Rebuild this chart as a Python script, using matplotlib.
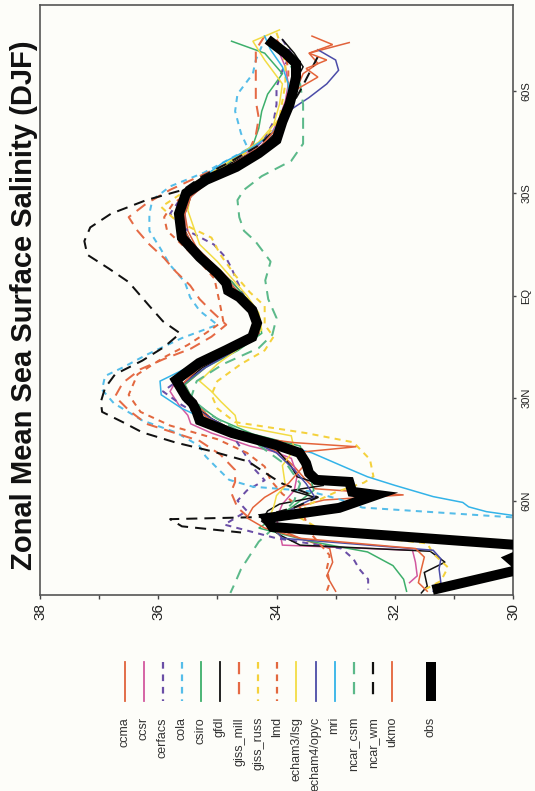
import numpy as np
import matplotlib
matplotlib.use("Agg")
import matplotlib.pyplot as plt
from matplotlib.lines import Line2D

plt.rcParams['font.family'] = ['Liberation Sans', 'DejaVu Sans']

# ---------------- zonal mean SSS (psu) by latitude (deg, S negative) ----------------
ccma_lat = [-74.1, -71, -68, -65, -61, -57, -53, -49, -44, -39, -34, -29, -24, -19, -14, -9, -4, 1, 6, 11, 16, 21, 26, 31, 36, 41, 46, 50, 54, 56.5, 58.3, 59.8, 62, 65, 68, 71, 74, 78, 82, 86.5]
ccma_sss = [32.77, 33.45, 33.3, 33.55, 33.65, 33.75, 33.85, 33.95, 34.2, 34.65, 35.1, 35.45, 35.55, 35.5, 35.35, 35.05, 34.75, 34.5, 34.3, 34.3, 34.75, 35.2, 35.55, 35.4, 35.1, 34.55, 33.95, 33.7, 33.5, 33.35, 31.85, 33.2, 33.7, 34.1, 34.0, 33.6, 33.1, 33.05, 33.15, 33.0]

ccsr_lat = [-75, -71, -67, -62, -57, -52, -47, -43, -39, -34, -29, -24, -19, -14, -9, -4, 1, 6, 11, 16, 21, 25, 28, 32, 35, 37.5, 40.2, 44, 45.6, 47.6, 52.6, 57, 61, 65, 69, 73, 74.5, 78, 82, 84]
ccsr_sss = [34.1, 33.95, 33.85, 33.8, 33.85, 33.95, 34.1, 34.4, 34.8, 35.2, 35.5, 35.6, 35.6, 35.45, 35.15, 34.85, 34.6, 34.4, 34.35, 34.8, 35.35, 35.7, 35.8, 35.65, 35.5, 35.45, 35.1, 34.45, 34.05, 33.75, 33.65, 33.7, 33.9, 34.0, 33.95, 33.9, 31.7, 31.65, 31.62, 31.75]

cerfacs_lat = [-75, -71, -66, -61, -56, -51, -46, -41, -37, -33, -29, -24, -19, -15, -11, -8, -4, 0, 4, 8, 12, 16, 20, 24, 28, 32, 35, 38, 42, 46, 51, 54, 57, 60, 63, 67, 71, 74, 77, 80, 83, 86]
cerfacs_sss = [33.9, 33.75, 33.9, 34.0, 34.0, 34.05, 34.2, 34.5, 34.85, 35.3, 35.6, 35.8, 35.5, 35.06, 34.85, 34.76, 34.66, 34.55, 34.4, 34.3, 34.35, 34.7, 35.2, 35.6, 35.92, 35.6, 35.3, 34.94, 34.7, 34.55, 34.36, 34.2, 34.5, 34.66, 34.5, 34.88, 34.0, 32.9, 32.7, 32.6, 32.45, 32.45]

cola_lat = [-73, -69, -65, -59, -54, -47.5, -43, -39, -36, -32, -28, -24, -19, -14, -9, -4, 0.5, 4.4, 8.5, 12.4, 17.3, 21, 23.5, 27.5, 31.5, 36.5, 40, 44, 47, 50.5, 53.9, 55.9, 57.2, 59.5, 62, 65.1]
cola_sss = [34.25, 34.35, 34.4, 34.66, 34.7, 34.6, 34.48, 34.9, 35.23, 35.8, 36.1, 36.15, 36.15, 35.97, 35.8, 35.55, 35.46, 35.3, 35.0, 35.6, 36.2, 36.6, 36.9, 36.95, 36.75, 36.27, 35.7, 35.3, 35.2, 35.0, 34.8, 34.4, 33.45, 32.95, 32.55, 29.8]

csiro_lat = [-74.5, -71, -65, -59, -54, -49, -44, -39, -34, -29, -24, -19, -14, -9, -4, 1, 6, 11, 16, 21, 26, 31, 36, 40.5, 44, 49.7, 57, 62, 68, 72, 75, 79, 83, 86.5]
csiro_sss = [34.76, 34.2, 33.9, 34.15, 34.25, 34.3, 34.4, 34.8, 35.25, 35.55, 35.6, 35.55, 35.4, 35.1, 34.75, 34.5, 34.3, 34.25, 34.65, 35.2, 35.55, 35.4, 35.0, 34.4, 33.6, 33.48, 33.37, 33.75, 34.3, 33.4, 32.46, 32.03, 31.85, 31.8]

gfdl_lat = [-75, -71, -67, -62, -57, -52, -47, -43, -39, -34, -29, -24, -19, -14, -9, -4, 1, 6, 11, 16, 21, 26, 31, 36, 40.5, 45, 50, 53, 55.5, 57, 59, 61, 63, 66, 70, 73, 74.8, 78, 81, 85, 87]
gfdl_sss = [33.9, 33.7, 33.55, 33.7, 33.8, 33.9, 34.05, 34.3, 34.75, 35.2, 35.5, 35.6, 35.55, 35.4, 35.1, 34.8, 34.55, 34.35, 34.3, 34.7, 35.25, 35.6, 35.5, 35.1, 34.6, 34.0, 33.75, 33.65, 33.2, 33.75, 33.35, 33.95, 34.15, 34.25, 33.95, 33.6, 31.4, 31.15, 31.5, 31.45, 31.55]

giss_mill_lat = [-76, -72, -67, -62, -57, -52, -47, -43, -39, -35, -31, -27, -23, -19, -15, -11, -7, -3, 1, 4.5, 8.5, 12, 15.5, 18.5, 21.5, 25.5, 29.5, 33.5, 37.5, 42.5, 46.5, 51, 54.5, 57.5, 62, 66]
giss_mill_sss = [34.2, 34.35, 34.35, 34.35, 34.35, 34.3, 34.35, 34.45, 34.8, 35.3, 35.8, 36.2, 36.5, 36.35, 36.15, 35.9, 35.7, 35.46, 35.3, 35.1, 34.85, 35.1, 35.45, 35.9, 36.3, 36.6, 36.73, 36.5, 36.2, 35.3, 34.95, 34.7, 34.7, 34.77, 34.66, 34.4]

giss_russ_lat = [-77, -72, -67, -62, -57, -52, -47, -42, -38, -34, -30, -26, -22, -17, -12, -6, -1, 3, 8.5, 12, 16, 20, 25, 29, 33, 37, 40.2, 42.9, 47.9, 52.9, 54.7, 57.5, 61.5, 65, 69, 72.5, 75.5, 79.5, 83.5, 86.5]
giss_russ_sss = [34.0, 33.9, 33.85, 33.85, 33.9, 33.95, 34.15, 34.5, 34.9, 35.3, 35.6, 35.95, 35.7, 35.1, 34.95, 34.7, 34.45, 34.2, 34.2, 34.05, 34.2, 34.6, 35.0, 35.1, 35.0, 34.7, 33.5, 32.7, 32.42, 32.36, 32.52, 33.0, 33.5, 33.6, 33.2, 31.45, 31.35, 31.1, 31.22, 31.55]

lmd_lat = [-75, -71, -66, -60, -55, -50, -45, -40, -35, -31, -27, -23, -19, -15, -10, -5, -1, 3, 7.4, 11, 14.4, 18, 23, 29, 34, 38, 42, 46, 50, 54, 58, 62, 66, 70, 73, 76, 80, 84, 86.5]
lmd_sss = [34.0, 33.85, 33.8, 33.8, 33.85, 33.9, 34.1, 34.5, 35.0, 35.4, 35.75, 35.9, 35.85, 35.6, 35.3, 35.05, 35.0, 34.95, 34.9, 35.2, 35.5, 35.9, 36.35, 36.5, 36.3, 35.8, 35.0, 34.5, 34.2, 34.1, 33.9, 33.6, 33.5, 33.4, 33.25, 33.1, 33.15, 33.1, 33.15]

echam3_lat = [-77.8, -74.5, -69, -62, -56, -50, -45, -40, -35, -30, -25, -20, -15, -10, -5, 0, 5, 10, 15, 20, 25, 28, 31, 35, 38, 41, 45, 49.7, 55.6, 58.5, 62, 66, 70]
echam3_sss = [33.95, 34.4, 34.2, 33.9, 33.95, 34.05, 34.3, 34.75, 35.15, 35.45, 35.5, 35.4, 35.3, 35.0, 34.75, 34.5, 34.3, 34.25, 34.6, 35.0, 35.3, 35.1, 34.94, 34.7, 34.66, 33.75, 33.7, 33.9, 33.85, 34.0, 34.05, 34.15, 33.95]

echam4_lat = [-72, -69, -66, -62, -58, -54, -49, -44, -39, -34, -29, -24, -19, -14, -9, -4, 1, 6, 11, 16, 21, 26, 31, 36, 41, 46, 51, 55, 59, 63, 67, 71, 74.5, 77, 80, 84, 86.5]
echam4_sss = [33.3, 33.0, 32.95, 33.15, 33.45, 33.8, 34.0, 34.25, 34.7, 35.15, 35.45, 35.55, 35.55, 35.4, 35.1, 34.8, 34.55, 34.35, 34.3, 34.7, 35.2, 35.6, 35.55, 35.1, 34.6, 34.0, 33.7, 33.5, 33.35, 33.8, 34.1, 33.9, 31.35, 31.22, 31.25, 31.22, 31.35]

mri_lat = [-76, -72, -67, -62, -57, -52, -47, -43, -39, -34, -29, -24, -19, -14, -9, -4, 1, 6, 11, 16, 21, 25, 29, 33, 37, 41, 46, 50.5, 53, 55.5, 58.8, 60.5, 61.8, 63.2, 64.8]
mri_sss = [34.2, 34.1, 33.9, 33.8, 33.8, 33.9, 34.1, 34.45, 34.9, 35.3, 35.55, 35.65, 35.6, 35.45, 35.2, 34.85, 34.6, 34.4, 34.35, 34.9, 35.5, 35.97, 35.95, 35.6, 35.1, 34.5, 33.4, 32.8, 32.46, 32.0, 31.35, 30.85, 30.75, 30.45, 29.8]

ncar_csm_lat = [-72, -67, -62, -56, -50, -44.5, -39.5, -35, -31, -28, -23, -19, -16, -10, -4.5, 1, 6.5, 11.4, 15.3, 20, 25, 30, 35, 40, 45, 50, 55, 60, 64, 68, 72, 76, 80, 84, 87]
ncar_csm_sss = [33.9, 33.75, 33.6, 33.55, 33.55, 33.55, 33.75, 34.25, 34.55, 34.66, 34.63, 34.55, 34.36, 34.1, 34.19, 34.14, 34.0, 34.07, 34.3, 34.9, 35.35, 35.45, 35.1, 34.6, 34.2, 33.8, 33.6, 33.7, 33.9, 34.05, 34.3, 34.45, 34.6, 34.7, 34.78]

ncar_wm_lat = [-70, -65, -60, -54, -49, -44, -39, -35, -31, -28, -24, -20, -16, -12, -8, -4, 0, 3, 7.5, 11, 15, 19, 23, 27, 31, 34, 37, 40, 43, 45.5, 48.5, 53.2, 55, 59, 62, 64.8, 65.4, 67.5, 69.3]
ncar_wm_sss = [33.3, 33.45, 33.6, 33.8, 34.0, 34.3, 34.8, 35.25, 35.58, 36.2, 36.8, 37.15, 37.25, 37.2, 36.84, 36.5, 36.3, 36.15, 35.92, 35.63, 35.9, 36.27, 36.73, 36.9, 36.97, 36.95, 36.6, 36.27, 35.7, 35.1, 34.48, 34.07, 33.9, 33.3, 33.7, 34.3, 35.8, 35.6, 34.6]

ukmo_lat = [-76, -73.5, -71, -69, -66.5, -64, -60, -55, -49, -44, -39, -34, -29, -24, -19, -14, -9, -4, 1, 6, 11, 16, 21, 26, 31, 36, 41, 43, 44.2, 45.8, 50, 55, 59, 62, 65, 68, 71, 74, 76.5, 80, 84, 86.5]
ukmo_sss = [33.4, 33.05, 33.45, 33.15, 33.5, 33.3, 33.7, 33.85, 34.0, 34.25, 34.7, 35.15, 35.45, 35.55, 35.55, 35.4, 35.1, 34.8, 34.55, 34.35, 34.3, 34.75, 35.3, 35.6, 35.5, 35.15, 34.6, 33.7, 32.65, 33.6, 33.55, 33.8, 34.2, 34.4, 34.5, 34.2, 33.6, 31.65, 31.5, 31.55, 31.6, 31.45]

obs_lat = [-75, -71, -68, -64, -60, -56, -51, -45.6, -41.7, -37.7, -33.9, -30, -24, -17, -11.3, -6.6, -3.7, -1.5, 0.4, 4.2, 8, 12.1, 15.9, 19.7, 24.7, 29.6, 31.5, 33.5, 36.5, 40.2, 43.7, 46, 49, 51.9, 53.9, 54.5, 57.4, 58.3, 62.1, 65.1, 67.7, 73, 75.5, 77, 80, 86.1]
obs_sss = [34.15, 33.85, 33.67, 33.67, 33.72, 33.78, 33.9, 34.0, 34.3, 34.68, 35.19, 35.53, 35.65, 35.6, 35.3, 35.0, 34.85, 34.82, 34.63, 34.41, 34.33, 34.41, 34.85, 35.31, 35.7, 35.53, 35.42, 35.36, 35.3, 34.75, 34.0, 33.61, 33.5, 33.45, 33.33, 32.77, 32.72, 32.31, 32.94, 34.17, 34.07, 29.9, 29.85, 30.05, 29.85, 31.36]

lat_ticks = [-60, -30, 0, 30, 60]
lat_labels = ["60S", "30S", "EQ", "30N", "60N"]
sss_ticks = [38, 37, 36, 35, 34, 33, 32, 31, 30]
sss_labels = ["38", "", "36", "", "34", "", "32", "", "30"]

# ---------------- styling ----------------
LONG = (0, (5.5, 3.5))
SHORT = (0, (3.0, 2.6))
series = [
    ("ccma", ccma_lat, ccma_sss, "#e0623c", "-"),
    ("ccsr", ccsr_lat, ccsr_sss, "#d2589f", "-"),
    ("cerfacs", cerfacs_lat, cerfacs_sss, "#6a4ea6", SHORT),
    ("cola", cola_lat, cola_sss, "#55bde9", SHORT),
    ("csiro", csiro_lat, csiro_sss, "#3daf6b", "-"),
    ("gfdl", gfdl_lat, gfdl_sss, "#111111", "-"),
    ("giss_mill", giss_mill_lat, giss_mill_sss, "#e56a45", LONG),
    ("giss_russ", giss_russ_lat, giss_russ_sss, "#f4d13c", SHORT),
    ("lmd", lmd_lat, lmd_sss, "#e2683f", SHORT),
    ("echam3/lsg", echam3_lat, echam3_sss, "#f2dc45", "-"),
    ("echam4/opyc", echam4_lat, echam4_sss, "#4b4ca8", "-"),
    ("mri", mri_lat, mri_sss, "#33b3e8", "-"),
    ("ncar_csm", ncar_csm_lat, ncar_csm_sss, "#5cb98a", LONG),
    ("ncar_wm", ncar_wm_lat, ncar_wm_sss, "#111111", LONG),
    ("ukmo", ukmo_lat, ukmo_sss, "#e4643a", "-"),
]

W, H = 535, 791
fig = plt.figure(figsize=(W / 100, H / 100), dpi=100)
fig.patch.set_facecolor("#fdfdf9")

# plot frame (latitude runs down the page, salinity increases to the left)
ax = fig.add_axes([40 / W, 1 - 595 / H, (513 - 40) / W, (595 - 5) / H])
ax.set_facecolor("#fdfdf9")

for name, la, s, col, ls in series:
    dashed = ls != "-"
    ax.plot(s, la, color=col, linestyle=ls, lw=1.45 if dashed else 1.1,
            solid_joinstyle="miter", zorder=2)
ax.plot(obs_sss, obs_lat, color="black", lw=7.2, solid_joinstyle="miter",
        solid_capstyle="butt", zorder=3)

ax.set_xlim(38, 30)
ax.set_ylim(87.6, -85.1)

ax.set_xticks(sss_ticks)
ax.set_xticklabels(sss_labels, rotation=90, fontsize=11, color="#222222")
ax.tick_params(axis="x", direction="out", length=3, width=1, pad=3, color="#444444")

ax.yaxis.tick_right()
ax.set_yticks(lat_ticks)
ax.set_yticklabels(lat_labels, rotation=90, va="center", fontsize=8, color="#222222")
ax.tick_params(axis="y", direction="out", length=2, width=1, pad=4, color="#444444")

for sp in ax.spines.values():
    sp.set_color("#555555")
    sp.set_linewidth(1.2)

fig.text(24 / W, 1 - 305 / H, "Zonal Mean Sea Surface Salinity (DJF)", rotation=90,
         fontsize=21, fontweight="bold", ha="center", va="center", color="#111111")

# key: vertical line samples with rotated names underneath
x0, dx = 124.5, 19.1
y_top, y_bot, y_txt = 1 - 662 / H, 1 - 701 / H, 1 - 717 / H
for i, (name, la, s, col, ls) in enumerate(series):
    xf = (x0 + i * dx) / W
    dashed = ls != "-"
    fig.add_artist(Line2D([xf, xf], [y_top, y_bot], transform=fig.transFigure,
                          color=col, linestyle=ls, lw=1.6 if dashed else 1.3))
    fig.text(xf, y_txt, name, rotation=90, ha="center", va="top", fontsize=9,
             color="#333333")
xo = 431 / W
fig.add_artist(Line2D([xo, xo], [y_top, y_bot], transform=fig.transFigure,
                      color="black", lw=7.2, solid_capstyle="butt"))
fig.text(xo, y_txt, "obs", rotation=90, ha="center", va="top", fontsize=9, color="#333333")

fig.savefig("out.png", dpi=100, facecolor=fig.get_facecolor())
